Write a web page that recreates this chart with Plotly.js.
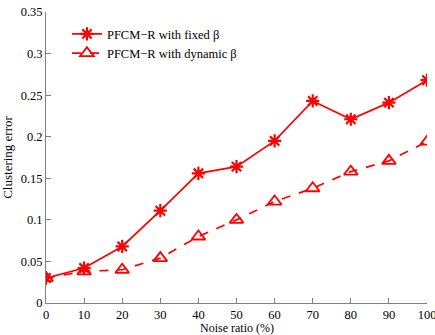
<!DOCTYPE html>
<html><head><meta charset="utf-8">
<script src="https://cdn.plot.ly/plotly-3.0.1.min.js"></script>
<style>html,body{margin:0;padding:0;background:#fff;}#plot{width:435px;height:335px;}</style>
</head><body><div id="plot"></div>
<script>
const noiseRatio = [0, 10, 20, 30, 40, 50, 60, 70, 80, 90, 100];
const fixedBeta = [0.030, 0.042, 0.068, 0.111, 0.156, 0.164, 0.195, 0.243, 0.221, 0.241, 0.268];
const dynamicBeta = [0.030, 0.038, 0.040, 0.054, 0.080, 0.100, 0.122, 0.138, 0.158, 0.171, 0.194];
const seriesNames = ['PFCM\u2212R with fixed \u03b2', 'PFCM\u2212R with dynamic \u03b2'];
const xTitle = 'Noise ratio (%)';
const yTitle = 'Clustering error';
const red = '#ff0000';
const serif = 'Liberation Serif, Times New Roman, serif';
const traces = [
  {x: noiseRatio, y: fixedBeta, name: seriesNames[0], mode: 'lines+markers', type: 'scatter',
   line: {color: red, width: 1.7},
   marker: {symbol: 'asterisk-open', size: 11, color: red, line: {color: red, width: 2.2}}},
  {x: noiseRatio, y: dynamicBeta, name: seriesNames[1], mode: 'lines+markers', type: 'scatter',
   line: {color: red, width: 1.7, dash: 'dash'},
   marker: {symbol: 'triangle-up-open', size: 12, color: red, line: {color: red, width: 1.8}}}
];
const tickFont = {family: serif, size: 12.5, color: '#000'};
const layout = {
  width: 435, height: 335,
  margin: {l: 46, r: 8, t: 12, b: 32},
  paper_bgcolor: '#fff', plot_bgcolor: '#fff',
  font: tickFont,
  showlegend: true,
  legend: {x: 0.055, y: 0.975, xanchor: 'left', yanchor: 'top', bgcolor: 'rgba(0,0,0,0)',
           font: {family: serif, size: 12.5, color: '#000'},
           tracegroupgap: 0, itemwidth: 30},
  annotations: [{text: xTitle, xref: 'paper', yref: 'paper', x: 0.5, y: 0, xanchor: 'center', yanchor: 'bottom',
                 yshift: -33, showarrow: false, borderpad: 0, font: {family: serif, size: 12, color: '#000'}}],
  xaxis: {range: [0, 100], tickvals: [0,10,20,30,40,50,60,70,80,90,100],
          ticks: 'inside', ticklen: 5, tickcolor: '#808080', showline: true, linecolor: '#808080', linewidth: 1,
          showgrid: false, zeroline: false, mirror: false, ticklabeloverflow: 'allow',
          tickfont: tickFont},
  yaxis: {range: [0, 0.35], tickvals: [0,0.05,0.1,0.15,0.2,0.25,0.3,0.35],
          ticktext: ['0','0.05','0.1','0.15','0.2','0.25','0.3','0.35'],
          ticks: 'inside', ticklen: 5, tickcolor: '#808080', showline: true, linecolor: '#808080', linewidth: 1,
          showgrid: false, zeroline: false, mirror: false,
          title: {text: yTitle, font: {family: serif, size: 13}, standoff: 6},
          tickfont: tickFont}
};
Plotly.newPlot('plot', traces, layout, {displayModeBar: false, staticPlot: true});
</script></body></html>
